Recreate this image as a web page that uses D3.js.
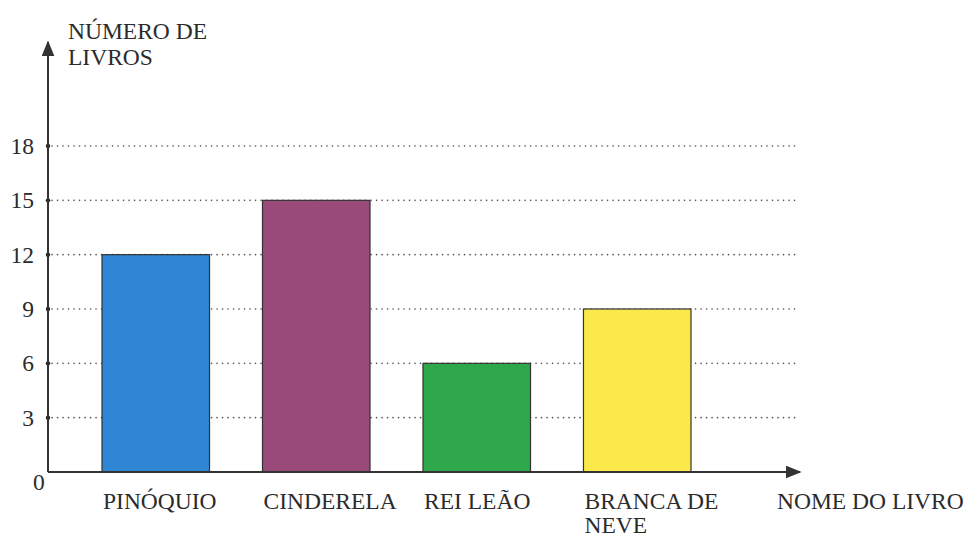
<!DOCTYPE html>
<html>
<head>
<meta charset="utf-8">
<script src="https://cdn.jsdelivr.net/npm/d3@7"></script>
</head>
<body style="margin:0">
<svg id="chart" width="974" height="548"></svg>
<script>
const books = ["PINÓQUIO", "CINDERELA", "REI LEÃO", "BRANCA DE NEVE"];
const bookLines = [["PINÓQUIO"], ["CINDERELA"], ["REI LEÃO"], ["BRANCA DE", "NEVE"]];
const counts = [12, 15, 6, 9];
const colors = ["#2e86d4", "#9a4a7a", "#2ea84a", "#fbe84a"];
const yTicks = [3, 6, 9, 12, 15, 18];

const svg = d3.select("#chart");
const originX = 48;
const baseY = 472;
const fontSize = 23.5;
const ink = "#2b2b2b";

const y = d3.scaleLinear().domain([0, 18]).range([baseY, 146]);
const x = d3.scaleBand().domain(books).range([102, 691]).paddingInner(0.33).paddingOuter(0);

// all text shares the same serif look
function label(sel) {
    return sel
        .attr("font-family", "Liberation Serif")
        .style("font-family", "'Liberation Serif', 'Times New Roman', monospace")
        .attr("font-size", fontSize)
        .attr("fill", ink);
}

// dotted grid lines
svg.append("g")
    .selectAll("line")
    .data(yTicks)
    .enter()
    .append("line")
    .attr("x1", originX + 4)
    .attr("x2", 795)
    .attr("y1", (d) => y(d))
    .attr("y2", (d) => y(d))
    .attr("stroke", "#555")
    .attr("stroke-width", 1.6)
    .attr("stroke-linecap", "round")
    .attr("stroke-dasharray", "0.1 5.4");

// small dots on the axis at each tick
svg.append("g")
    .selectAll("circle")
    .data(yTicks)
    .enter()
    .append("circle")
    .attr("cx", originX)
    .attr("cy", (d) => y(d))
    .attr("r", 2.2)
    .attr("fill", "#222");

// bars
svg.append("g")
    .selectAll("rect")
    .data(books)
    .enter()
    .append("rect")
    .attr("x", (d) => x(d))
    .attr("width", x.bandwidth())
    .attr("y", (d, i) => y(counts[i]))
    .attr("height", (d, i) => baseY - y(counts[i]))
    .attr("fill", (d, i) => colors[i])
    .attr("stroke", "#333")
    .attr("stroke-width", 1.2);

// axes with arrows
svg.append("defs")
    .append("marker")
    .attr("id", "arrow")
    .attr("viewBox", "0 0 10 10")
    .attr("refX", 9)
    .attr("refY", 5)
    .attr("markerWidth", 16)
    .attr("markerHeight", 13)
    .attr("markerUnits", "userSpaceOnUse")
    .attr("orient", "auto")
    .attr("preserveAspectRatio", "none")
    .append("path")
    .attr("d", "M0,0 L10,5 L0,10 Z")
    .attr("fill", "#333");

svg.append("line")
    .attr("x1", originX).attr("y1", baseY)
    .attr("x2", originX).attr("y2", 42)
    .attr("stroke", "#333").attr("stroke-width", 2)
    .attr("marker-end", "url(#arrow)");

svg.append("line")
    .attr("x1", originX).attr("y1", baseY)
    .attr("x2", 800).attr("y2", baseY)
    .attr("stroke", "#333").attr("stroke-width", 2)
    .attr("marker-end", "url(#arrow)");

// tick labels
svg.append("g")
    .selectAll("text")
    .data(yTicks)
    .enter()
    .append("text")
    .call(label)
    .attr("x", 34)
    .attr("y", (d) => y(d) + 8)
    .attr("text-anchor", "end")
    .text((d) => d);

svg.append("text")
    .call(label)
    .attr("x", 33)
    .attr("y", 490)
    .text("0");

// category labels
const labels = svg.append("g")
    .selectAll("text")
    .data(books)
    .enter()
    .append("text")
    .call(label)
    .attr("x", (d) => x(d) + 1)
    .attr("y", 509);

labels.selectAll("tspan")
    .data((d, i) => bookLines[i])
    .enter()
    .append("tspan")
    .attr("x", function () { return d3.select(this.parentNode).attr("x"); })
    .attr("dy", (d, i) => (i === 0 ? 0 : 24))
    .text((d) => d);

// axis titles
svg.append("text").call(label)
    .attr("x", 68).attr("y", 39)
    .text("NÚMERO DE");
svg.append("text").call(label)
    .attr("x", 68).attr("y", 65)
    .text("LIVROS");

svg.append("text").call(label)
    .attr("x", 777).attr("y", 509)
    .text("NOME DO LIVRO");
</script>
</body>
</html>
